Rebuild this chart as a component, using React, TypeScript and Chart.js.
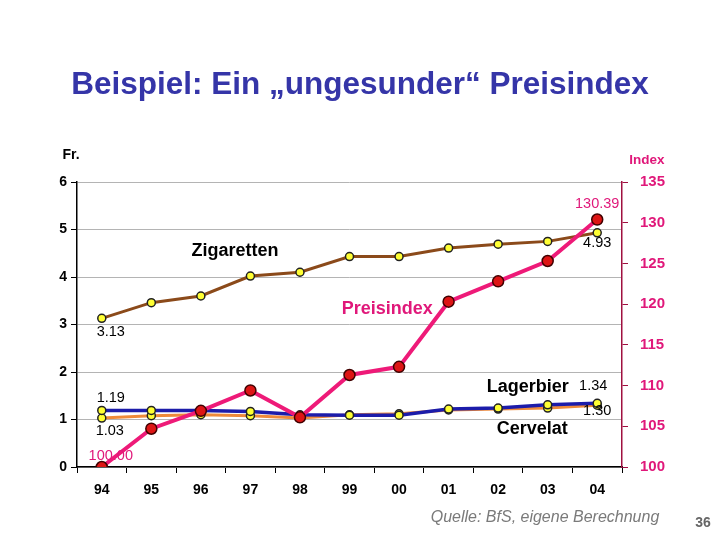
import React, { useEffect, useRef } from "react";
import { Chart, registerables } from "chart.js";

Chart.register(...registerables);

const years = ["94", "95", "96", "97", "98", "99", "00", "01", "02", "03", "04"];
const zigaretten = [3.13, 3.46, 3.6, 4.02, 4.1, 4.43, 4.43, 4.61, 4.69, 4.75, 4.93];
const preisindex = [100.0, 104.7, 106.9, 109.4, 106.1, 111.3, 112.3, 120.3, 122.8, 125.3, 130.39];
const lagerbier = [1.19, 1.19, 1.19, 1.17, 1.1, 1.09, 1.09, 1.22, 1.24, 1.31, 1.34];
const cervelat = [1.03, 1.08, 1.1, 1.08, 1.03, 1.1, 1.12, 1.2, 1.22, 1.24, 1.3];
const leftTicks = [0, 1, 2, 3, 4, 5, 6];
const rightTicks = [100, 105, 110, 115, 120, 125, 130, 135];

const FONT = "'Liberation Sans', Arial, sans-serif";
const PINK = "#e0187a";

const overlay = {
  id: "overlay",
  afterDatasetsDraw(chart: any) {
    const ctx = chart.ctx;
    const x = chart.scales.x;
    const yl = chart.scales.y;
    const yr = chart.scales.y1;
    const last = years.length - 1;
    const txt = (s: string, px: number, py: number, font: string, color: string, align: CanvasTextAlign = "center") => {
      ctx.save();
      ctx.font = font;
      ctx.fillStyle = color;
      ctx.textAlign = align;
      ctx.textBaseline = "middle";
      ctx.fillText(s, px, py);
      ctx.restore();
    };
    const small = `14.5px ${FONT}`;
    const big = `bold 18px ${FONT}`;
    // value labels
    txt(zigaretten[0].toFixed(2), x.getPixelForValue(0) + 9, yl.getPixelForValue(zigaretten[0]) + 14, small, "#000");
    txt(zigaretten[last].toFixed(2), x.getPixelForValue(last), yl.getPixelForValue(zigaretten[last]) + 10, small, "#000");
    txt(preisindex[last].toFixed(2), x.getPixelForValue(last), yr.getPixelForValue(preisindex[last]) - 16, small, PINK);
    txt(preisindex[0].toFixed(2), x.getPixelForValue(0) + 9, yr.getPixelForValue(preisindex[0]) - 11, small, PINK);
    txt(lagerbier[0].toFixed(2), x.getPixelForValue(0) + 9, yl.getPixelForValue(lagerbier[0]) - 12, small, "#000");
    txt(cervelat[0].toFixed(2), x.getPixelForValue(0) + 8, yl.getPixelForValue(cervelat[0]) + 13, small, "#000");
    txt(lagerbier[last].toFixed(2), x.getPixelForValue(last) - 4, yl.getPixelForValue(lagerbier[last]) - 17, small, "#000");
    txt(cervelat[last].toFixed(2), x.getPixelForValue(last), yl.getPixelForValue(cervelat[last]) + 6, small, "#000");
    // series labels
    txt("Zigaretten", x.getPixelForValue(2.69), yl.getPixelForValue(4.55), big, "#000");
    txt("Preisindex", x.getPixelForValue(5.76), yl.getPixelForValue(3.33), big, PINK);
    txt("Lagerbier", x.getPixelForValue(8.6), yl.getPixelForValue(1.68), big, "#000");
    txt("Cervelat", x.getPixelForValue(8.69), yl.getPixelForValue(0.8), big, "#000");
    // axis titles
    txt("Fr.", 71, 155, `bold 14px ${FONT}`, "#000");
    txt("Index", 647, 160, `bold 13.5px ${FONT}`, PINK);
    // title and footer
    txt("Beispiel: Ein \u201Eungesunder\u201C Preisindex", 360, 85, `bold 31.5px ${FONT}`, "#3535a8");
    txt("Quelle: BfS, eigene Berechnung", 545, 518, `italic 16px ${FONT}`, "#7a7a7a");
    txt("36", 703, 523, `bold 14px ${FONT}`, "#666");
  },
};

export default function App() {
  const ref = useRef<HTMLCanvasElement>(null);
  useEffect(() => {
    if (!ref.current) return;
    const yellow = "#ffff33";
    const chart = new Chart(ref.current, {
      type: "line",
      data: {
        labels: years,
        datasets: [
          {
            label: "Preisindex",
            data: preisindex,
            yAxisID: "y1",
            borderColor: "#ee1a78",
            borderWidth: 4,
            pointRadius: 5.5,
            pointBackgroundColor: "#dd1515",
            pointBorderColor: "#400000",
            pointBorderWidth: 1.5,
          },
          {
            label: "Lagerbier",
            data: lagerbier,
            yAxisID: "y",
            borderColor: "#1c1caa",
            borderWidth: 3.5,
            pointRadius: 4,
            pointBackgroundColor: yellow,
            pointBorderColor: "#222",
            pointBorderWidth: 1.5,
          },
          {
            label: "Cervelat",
            data: cervelat,
            yAxisID: "y",
            borderColor: "#ee8a3a",
            borderWidth: 3,
            pointRadius: 4,
            pointBackgroundColor: yellow,
            pointBorderColor: "#222",
            pointBorderWidth: 1.5,
          },
          {
            label: "Zigaretten",
            data: zigaretten,
            yAxisID: "y",
            borderColor: "#8b4a1a",
            borderWidth: 3,
            pointRadius: 4,
            pointBackgroundColor: yellow,
            pointBorderColor: "#222",
            pointBorderWidth: 1.5,
          },
        ],
      },
      options: {
        responsive: false,
        animation: false,
        layout: { padding: { top: 182, left: 0, right: 0, bottom: 0 } },
        plugins: { legend: { display: false }, tooltip: { enabled: false }, title: { display: false } },
        elements: { line: { tension: 0 } },
        scales: {
          x: {
            type: "category",
            offset: true,
            afterFit: (s: any) => { s.height = 73; },
            grid: { drawOnChartArea: false, offset: true, tickLength: 6, color: "#000", tickColor: "#000" },
            border: { color: "#000", width: 1.5 },
            ticks: { color: "#000", font: { family: FONT, size: 14, weight: "bold" }, padding: 9 },
          },
          y: {
            position: "left",
            min: 0,
            max: 6,
            afterFit: (s: any) => { s.width = 77; },
            afterBuildTicks: (s: any) => { s.ticks = leftTicks.map((v) => ({ value: v })); },
            grid: { color: "#b4b4b4", lineWidth: 1, tickLength: 6, tickColor: "#000" },
            border: { color: "#000", width: 1.5 },
            ticks: { color: "#000", font: { family: FONT, size: 14, weight: "bold" }, padding: 4 },
          },
          y1: {
            position: "right",
            min: 100,
            max: 135,
            afterFit: (s: any) => { s.width = 98; },
            afterBuildTicks: (s: any) => { s.ticks = rightTicks.map((v) => ({ value: v })); },
            grid: { drawOnChartArea: false, tickLength: 6, color: "#a01040", tickColor: "#a01040" },
            border: { color: "#a01040", width: 1.5 },
            ticks: { color: PINK, font: { family: FONT, size: 15, weight: "bold" }, padding: 12 },
          },
        },
      },
      plugins: [overlay],
    } as any);
    return () => chart.destroy();
  }, []);
  return (
    <div style={{ position: "absolute", left: 0, top: 0, width: 720, height: 540, background: "#fff" }}>
      <canvas ref={ref} width={720} height={540} />
    </div>
  );
}
